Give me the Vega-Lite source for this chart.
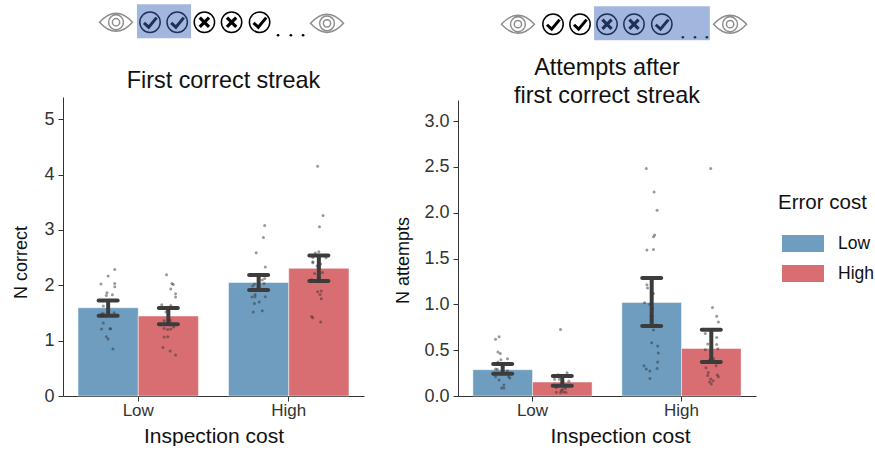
{
"$schema":"https://vega.github.io/schema/vega-lite/v6.json",
"background":"white",
"padding":{"left":12,"top":4,"right":0,"bottom":0},
"bounds":"flush",
"spacing":94,
"config":{"view":{"stroke":null},"font":"Liberation Sans",
 "axis":{"grid":false,"domainColor":"#333333","tickColor":"#333333","domainWidth":1,"tickWidth":1,"tickSize":5,"labelColor":"#333333","titleColor":"#111111","labelFont":"Liberation Sans","titleFont":"Liberation Sans","titleFontWeight":"normal"},
 "title":{"font":"Liberation Sans","fontWeight":"normal","fontSize":23.4,"color":"#111111","lineHeight":28}},
"datasets":{
"bars1":[
{"cost":"Low","err":"Low","mean":1.594,"lo":1.45,"hi":1.727},
{"cost":"Low","err":"High","mean":1.444,"lo":1.294,"hi":1.588},
{"cost":"High","err":"Low","mean":2.05,"lo":1.913,"hi":2.184},
{"cost":"High","err":"High","mean":2.305,"lo":2.076,"hi":2.539}],
"bars2":[
{"cost":"Low","err":"Low","mean":0.287,"lo":0.243,"hi":0.349},
{"cost":"Low","err":"High","mean":0.152,"lo":0.112,"hi":0.218},
{"cost":"High","err":"Low","mean":1.021,"lo":0.763,"hi":1.287},
{"cost":"High","err":"High","mean":0.519,"lo":0.37,"hi":0.723}],
"pts1":[
{"c":"Low","o":-0.39,"v":2.286},{"c":"Low","o":-0.5,"v":2.166},{"c":"Low","o":-0.62,"v":2.021},{"c":"Low","o":-0.39,"v":2.033},{"c":"Low","o":-0.39,"v":1.973},{"c":"Low","o":-0.52,"v":1.865},{"c":"Low","o":-0.53,"v":1.817},{"c":"Low","o":-0.43,"v":1.829},{"c":"Low","o":-0.58,"v":1.624},{"c":"Low","o":-0.58,"v":1.492},{"c":"Low","o":-0.61,"v":1.48},{"c":"Low","o":-0.4,"v":1.504},{"c":"Low","o":-0.6,"v":1.45},{"c":"Low","o":-0.58,"v":1.317},{"c":"Low","o":-0.61,"v":1.209},{"c":"Low","o":-0.47,"v":1.215},{"c":"Low","o":-0.46,"v":1.215},{"c":"Low","o":-0.53,"v":1.071},{"c":"Low","o":-0.5,"v":1.028},{"c":"Low","o":-0.42,"v":0.848},
{"c":"Low","o":0.47,"v":2.19},{"c":"Low","o":0.56,"v":2.033},{"c":"Low","o":0.58,"v":2.015},{"c":"Low","o":0.54,"v":1.931},{"c":"Low","o":0.62,"v":1.847},{"c":"Low","o":0.62,"v":1.787},{"c":"Low","o":0.39,"v":1.648},{"c":"Low","o":0.54,"v":1.636},{"c":"Low","o":0.42,"v":1.582},{"c":"Low","o":0.48,"v":1.564},{"c":"Low","o":0.46,"v":1.516},{"c":"Low","o":0.43,"v":1.359},{"c":"Low","o":0.53,"v":1.365},{"c":"Low","o":0.49,"v":1.311},{"c":"Low","o":0.43,"v":1.221},{"c":"Low","o":0.49,"v":1.203},{"c":"Low","o":0.54,"v":1.209},{"c":"Low","o":0.59,"v":1.245},{"c":"Low","o":0.43,"v":1.065},{"c":"Low","o":0.49,"v":1.071},{"c":"Low","o":0.41,"v":0.878},{"c":"Low","o":0.53,"v":0.812},{"c":"Low","o":0.62,"v":0.74},
{"c":"High","o":-0.4,"v":3.08},{"c":"High","o":-0.42,"v":2.864},{"c":"High","o":-0.54,"v":2.587},{"c":"High","o":-0.39,"v":2.328},{"c":"High","o":-0.4,"v":2.123},{"c":"High","o":-0.44,"v":2.093},{"c":"High","o":-0.41,"v":2.033},{"c":"High","o":-0.57,"v":2.021},{"c":"High","o":-0.6,"v":1.985},{"c":"High","o":-0.56,"v":1.835},{"c":"High","o":-0.61,"v":1.787},{"c":"High","o":-0.56,"v":1.793},{"c":"High","o":-0.39,"v":1.793},{"c":"High","o":-0.57,"v":1.672},{"c":"High","o":-0.49,"v":1.696},{"c":"High","o":-0.59,"v":1.516},{"c":"High","o":-0.44,"v":1.54},
{"c":"High","o":0.48,"v":4.151},{"c":"High","o":0.57,"v":3.261},{"c":"High","o":0.51,"v":3.056},{"c":"High","o":0.5,"v":2.605},{"c":"High","o":0.44,"v":2.581},{"c":"High","o":0.62,"v":2.497},{"c":"High","o":0.4,"v":2.503},{"c":"High","o":0.4,"v":2.424},{"c":"High","o":0.4,"v":2.406},{"c":"High","o":0.53,"v":2.382},{"c":"High","o":0.47,"v":2.346},{"c":"High","o":0.43,"v":2.214},{"c":"High","o":0.56,"v":2.232},{"c":"High","o":0.38,"v":2.105},{"c":"High","o":0.51,"v":2.117},{"c":"High","o":0.48,"v":2.075},{"c":"High","o":0.48,"v":1.883},{"c":"High","o":0.54,"v":1.895},{"c":"High","o":0.52,"v":1.835},{"c":"High","o":0.54,"v":1.757},{"c":"High","o":0.38,"v":1.438},{"c":"High","o":0.4,"v":1.414},{"c":"High","o":0.53,"v":1.335}],
"pts2":[
{"c":"Low","o":-0.56,"v":0.647},{"c":"Low","o":-0.62,"v":0.618},{"c":"Low","o":-0.58,"v":0.48},{"c":"Low","o":-0.54,"v":0.465},{"c":"Low","o":-0.53,"v":0.396},{"c":"Low","o":-0.42,"v":0.407},{"c":"Low","o":-0.58,"v":0.371},{"c":"Low","o":-0.51,"v":0.338},{"c":"Low","o":-0.62,"v":0.294},{"c":"Low","o":-0.59,"v":0.291},{"c":"Low","o":-0.42,"v":0.276},{"c":"Low","o":-0.62,"v":0.211},{"c":"Low","o":-0.56,"v":0.174},{"c":"Low","o":-0.4,"v":0.211},{"c":"Low","o":-0.38,"v":0.196},{"c":"Low","o":-0.48,"v":0.12},{"c":"Low","o":-0.52,"v":0.087},{"c":"Low","o":-0.48,"v":0.087},
{"c":"Low","o":0.47,"v":0.727},{"c":"Low","o":0.58,"v":0.254},{"c":"Low","o":0.37,"v":0.222},{"c":"Low","o":0.43,"v":0.232},{"c":"Low","o":0.37,"v":0.182},{"c":"Low","o":0.45,"v":0.182},{"c":"Low","o":0.61,"v":0.16},{"c":"Low","o":0.51,"v":0.156},{"c":"Low","o":0.4,"v":0.094},{"c":"Low","o":0.55,"v":0.083},{"c":"Low","o":0.5,"v":0.072},{"c":"Low","o":0.4,"v":0.04},{"c":"Low","o":0.47,"v":0.036},{"c":"Low","o":0.52,"v":0.043},{"c":"Low","o":0.56,"v":0.04},{"c":"Low","o":0.48,"v":0.058},
{"c":"High","o":-0.59,"v":2.483},{"c":"High","o":-0.46,"v":2.225},{"c":"High","o":-0.41,"v":2.028},{"c":"High","o":-0.45,"v":1.756},{"c":"High","o":-0.47,"v":1.737},{"c":"High","o":-0.47,"v":1.599},{"c":"High","o":-0.58,"v":1.592},{"c":"High","o":-0.58,"v":1.214},{"c":"High","o":-0.57,"v":1.178},{"c":"High","o":-0.47,"v":1.119},{"c":"High","o":-0.62,"v":1.018},{"c":"High","o":-0.53,"v":1.0},{"c":"High","o":-0.49,"v":0.956},{"c":"High","o":-0.51,"v":0.876},{"c":"High","o":-0.51,"v":0.829},{"c":"High","o":-0.43,"v":0.774},{"c":"High","o":-0.47,"v":0.719},{"c":"High","o":-0.5,"v":0.581},{"c":"High","o":-0.4,"v":0.545},{"c":"High","o":-0.39,"v":0.468},{"c":"High","o":-0.4,"v":0.37},{"c":"High","o":-0.63,"v":0.33},{"c":"High","o":-0.59,"v":0.294},{"c":"High","o":-0.41,"v":0.301},{"c":"High","o":-0.53,"v":0.272},{"c":"High","o":-0.53,"v":0.192},
{"c":"High","o":0.49,"v":2.483},{"c":"High","o":0.52,"v":0.967},{"c":"High","o":0.59,"v":0.869},{"c":"High","o":0.62,"v":0.807},{"c":"High","o":0.4,"v":0.683},{"c":"High","o":0.44,"v":0.567},{"c":"High","o":0.59,"v":0.563},{"c":"High","o":0.59,"v":0.639},{"c":"High","o":0.4,"v":0.505},{"c":"High","o":0.61,"v":0.516},{"c":"High","o":0.54,"v":0.407},{"c":"High","o":0.47,"v":0.392},{"c":"High","o":0.61,"v":0.363},{"c":"High","o":0.58,"v":0.33},{"c":"High","o":0.41,"v":0.308},{"c":"High","o":0.45,"v":0.257},{"c":"High","o":0.44,"v":0.225},{"c":"High","o":0.6,"v":0.228},{"c":"High","o":0.62,"v":0.21},{"c":"High","o":0.49,"v":0.185},{"c":"High","o":0.53,"v":0.167},{"c":"High","o":0.47,"v":0.152},{"c":"High","o":0.5,"v":0.13}],
"icons1":[
{"k":"eye","i":-1.25,"v":6.75},{"k":"eye","i":6.51,"v":6.73},
{"k":"check","i":0,"v":6.75},{"k":"check","i":1,"v":6.75},{"k":"cross","i":2,"v":6.75},{"k":"cross","i":3,"v":6.75},{"k":"check","i":4.03,"v":6.75},
{"k":"dot","i":4.71,"v":6.516},{"k":"dot","i":5.18,"v":6.516},{"k":"dot","i":5.63,"v":6.516}],
"box1":[{"i":-0.48,"i2":1.51,"v":7.076,"v2":6.462}],
"icons2":[
{"k":"eye","i":-1.3,"v":4.057},{"k":"eye","i":6.56,"v":4.057},
{"k":"check","i":0,"v":4.057},{"k":"check","i":1,"v":4.057},{"k":"cross","i":2,"v":4.057},{"k":"cross","i":3,"v":4.057},{"k":"check","i":4.03,"v":4.057},
{"k":"dot","i":4.81,"v":3.915},{"k":"dot","i":5.26,"v":3.915},{"k":"dot","i":5.7,"v":3.915}],
"box2":[{"i":1.52,"i2":5.81,"v":4.253,"v2":3.882}]
},
"hconcat":[
{"width":301,"height":299,
 "title":{"text":"First correct streak","dx":10,"offset":-89},
 "resolve":{"scale":{"x":"independent","xOffset":"independent"}},
 "layer":[
  {"data":{"name":"bars1"},
   "encoding":{"x":{"field":"cost","type":"nominal","sort":["Low","High"],"scale":{"paddingInner":0.2,"paddingOuter":0.1},"axis":{"title":"Inspection cost","labelAngle":0,"labelFontSize":17,"titleFontSize":21,"labelPadding":1,"titlePadding":7}},
    "xOffset":{"field":"err","type":"nominal","sort":["Low","High"],"scale":{"paddingInner":0,"paddingOuter":0}}},
   "layer":[
    {"mark":{"type":"bar","stroke":"#ffffff","strokeOpacity":0.45,"strokeWidth":1},
     "encoding":{"y":{"field":"mean","type":"quantitative","scale":{"domain":[0,5.4],"nice":false},"axis":{"title":"N correct","values":[0,1,2,3,4,5],"format":"d","labelFontSize":18,"titleFontSize":18,"labelPadding":4,"titleX":-33,"titleY":165}},
      "color":{"field":"err","type":"nominal","sort":["Low","High"],"scale":{"domain":["Low","High"],"range":["#6e9dc0","#d96e72"]},"legend":{"title":"Error cost","orient":"none","legendX":715,"legendY":96,"titleFontSize":20.5,"labelFontSize":17.5,"titleFontWeight":"normal","titleColor":"#111111","labelColor":"#111111","titlePadding":9,"rowPadding":-5,"labelOffset":14,"symbolOffset":4,"symbolType":"M-1,-0.4H1V0.4H-1Z","symbolSize":1764,"symbolStrokeWidth":0,"symbolOpacity":1}}}},
    {"mark":{"type":"rule","color":"#3c3c3c","strokeWidth":4},"encoding":{"y":{"field":"lo","type":"quantitative"},"y2":{"field":"hi"}}},
    {"mark":{"type":"tick","color":"#3c3c3c","size":23,"thickness":4,"cornerRadius":2,"opacity":1},"encoding":{"y":{"field":"lo","type":"quantitative"}}},
    {"mark":{"type":"tick","color":"#3c3c3c","size":23,"thickness":4,"cornerRadius":2,"opacity":1},"encoding":{"y":{"field":"hi","type":"quantitative"}}}
   ]},
  {"data":{"name":"pts1"},
   "mark":{"type":"circle","color":"#333333","opacity":0.5,"size":9},
   "encoding":{"x":{"field":"c","type":"nominal","sort":["Low","High"],"scale":{"paddingInner":0.2,"paddingOuter":0.1},"axis":null},
    "xOffset":{"field":"o","type":"quantitative","scale":{"domain":[-1,1]}},
    "y":{"field":"v","type":"quantitative"}}},
  {"encoding":{"x":{"field":"i","type":"quantitative","scale":{"domain":[-3.2,7.87],"nice":false,"zero":false},"axis":null},"y":{"field":"v","type":"quantitative"}},
   "layer":[
    {"data":{"name":"icons1"},"transform":[{"filter":"datum.k=='eye'"}],"mark":{"type":"point","shape":"M-1,0Q0,-1.1 1,0Q0,1.1 -1,0ZM0.45,0A0.45,0.45 0 1 1 -0.45,0A0.45,0.45 0 1 1 0.45,0ZM0.22,0A0.22,0.22 0 1 1 -0.22,0A0.22,0.22 0 1 1 0.22,0Z","size":1089,"stroke":"#8e8e8e","strokeWidth":1.5,"fill":null,"opacity":1}},
    {"data":{"name":"icons1"},"transform":[{"filter":"datum.k=='check'||datum.k=='cross'"}],"mark":{"type":"point","shape":"circle","size":415,"stroke":"#000000","strokeWidth":1.5,"fill":"#ffffff","fillOpacity":1,"opacity":1}},
    {"data":{"name":"icons1"},"transform":[{"filter":"datum.k=='check'"}],"mark":{"type":"point","shape":"M-0.55,0.05L-0.12,0.45L0.6,-0.42","size":484,"stroke":"#000000","strokeWidth":3,"fill":null,"opacity":1}},
    {"data":{"name":"icons1"},"transform":[{"filter":"datum.k=='cross'"}],"mark":{"type":"point","shape":"M-0.42,-0.42L0.42,0.42M0.42,-0.42L-0.42,0.42","size":484,"stroke":"#000000","strokeWidth":3.2,"fill":null,"opacity":1}},
    {"data":{"name":"icons1"},"transform":[{"filter":"datum.k=='dot'"}],"mark":{"type":"circle","color":"#000000","size":7,"opacity":1}},
    {"data":{"name":"box1"},"mark":{"type":"rect","color":"#3e68bb","opacity":0.48},"encoding":{"x2":{"field":"i2"},"y2":{"field":"v2"}}}
   ]}
 ]},
{"width":298,"height":299,
 "title":{"text":["Attempts after","first correct streak"],"offset":-102},
 "resolve":{"scale":{"x":"independent","xOffset":"independent"}},
 "layer":[
  {"data":{"name":"bars2"},
   "encoding":{"x":{"field":"cost","type":"nominal","sort":["Low","High"],"scale":{"paddingInner":0.2,"paddingOuter":0.1},"axis":{"title":"Inspection cost","labelAngle":0,"labelFontSize":17,"titleFontSize":21,"labelPadding":1,"titlePadding":7,"titleX":162}},
    "xOffset":{"field":"err","type":"nominal","sort":["Low","High"],"scale":{"paddingInner":0,"paddingOuter":0}}},
   "layer":[
    {"mark":{"type":"bar","stroke":"#ffffff","strokeOpacity":0.45,"strokeWidth":1},
     "encoding":{"y":{"field":"mean","type":"quantitative","scale":{"domain":[0,3.23],"nice":false,"range":[299,3]},"axis":{"title":"N attempts","values":[0,0.5,1,1.5,2,2.5,3],"format":".1f","labelFontSize":18,"titleFontSize":18,"labelPadding":4,"titleX":-46,"titleY":163}},
      "color":{"field":"err","type":"nominal","sort":["Low","High"],"scale":{"domain":["Low","High"],"range":["#6e9dc0","#d96e72"]},"legend":{"title":"Error cost","orient":"none","legendX":715,"legendY":96,"titleFontSize":20.5,"labelFontSize":17.5,"titleFontWeight":"normal","titleColor":"#111111","labelColor":"#111111","titlePadding":9,"rowPadding":-5,"labelOffset":14,"symbolOffset":4,"symbolType":"M-1,-0.4H1V0.4H-1Z","symbolSize":1764,"symbolStrokeWidth":0,"symbolOpacity":1}}}},
    {"mark":{"type":"rule","color":"#3c3c3c","strokeWidth":4},"encoding":{"y":{"field":"lo","type":"quantitative"},"y2":{"field":"hi"}}},
    {"mark":{"type":"tick","color":"#3c3c3c","size":23,"thickness":4,"cornerRadius":2,"opacity":1},"encoding":{"y":{"field":"lo","type":"quantitative"}}},
    {"mark":{"type":"tick","color":"#3c3c3c","size":23,"thickness":4,"cornerRadius":2,"opacity":1},"encoding":{"y":{"field":"hi","type":"quantitative"}}}
   ]},
  {"data":{"name":"pts2"},
   "mark":{"type":"circle","color":"#333333","opacity":0.5,"size":9},
   "encoding":{"x":{"field":"c","type":"nominal","sort":["Low","High"],"scale":{"paddingInner":0.2,"paddingOuter":0.1},"axis":null},
    "xOffset":{"field":"o","type":"quantitative","scale":{"domain":[-1,1]}},
    "y":{"field":"v","type":"quantitative"}}},
  {"encoding":{"x":{"field":"i","type":"quantitative","scale":{"domain":[-3.52,7.52],"nice":false,"zero":false},"axis":null},"y":{"field":"v","type":"quantitative"}},
   "layer":[
    {"data":{"name":"icons2"},"transform":[{"filter":"datum.k=='eye'"}],"mark":{"type":"point","shape":"M-1,0Q0,-1.1 1,0Q0,1.1 -1,0ZM0.45,0A0.45,0.45 0 1 1 -0.45,0A0.45,0.45 0 1 1 0.45,0ZM0.22,0A0.22,0.22 0 1 1 -0.22,0A0.22,0.22 0 1 1 0.22,0Z","size":1089,"stroke":"#8e8e8e","strokeWidth":1.5,"fill":null,"opacity":1}},
    {"data":{"name":"icons2"},"transform":[{"filter":"datum.k=='check'||datum.k=='cross'"}],"mark":{"type":"point","shape":"circle","size":415,"stroke":"#000000","strokeWidth":1.5,"fill":"#ffffff","fillOpacity":1,"opacity":1}},
    {"data":{"name":"icons2"},"transform":[{"filter":"datum.k=='check'"}],"mark":{"type":"point","shape":"M-0.55,0.05L-0.12,0.45L0.6,-0.42","size":484,"stroke":"#000000","strokeWidth":3,"fill":null,"opacity":1}},
    {"data":{"name":"icons2"},"transform":[{"filter":"datum.k=='cross'"}],"mark":{"type":"point","shape":"M-0.42,-0.42L0.42,0.42M0.42,-0.42L-0.42,0.42","size":484,"stroke":"#000000","strokeWidth":3.2,"fill":null,"opacity":1}},
    {"data":{"name":"icons2"},"transform":[{"filter":"datum.k=='dot'"}],"mark":{"type":"circle","color":"#000000","size":7,"opacity":1}},
    {"data":{"name":"box2"},"mark":{"type":"rect","color":"#3e68bb","opacity":0.48},"encoding":{"x2":{"field":"i2"},"y2":{"field":"v2"}}}
   ]}
 ]}
]
}
